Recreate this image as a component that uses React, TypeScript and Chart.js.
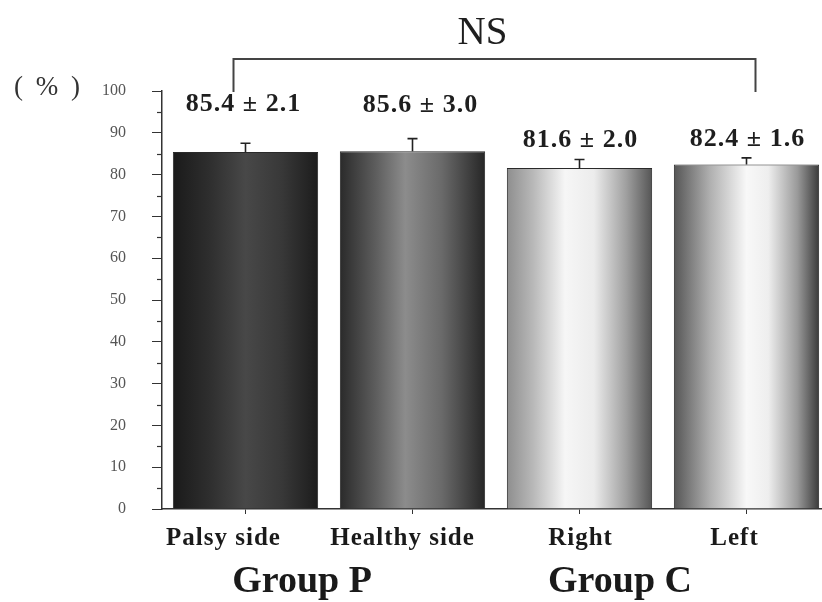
import { useEffect, useRef } from 'react';
import { Chart, registerables } from 'chart.js';

Chart.register(...registerables);

// ---- data ----
const categories = ['Palsy side', 'Healthy side', 'Right', 'Left'];
const means = [85.4, 85.6, 81.6, 82.4];
const sds = [2.1, 3.0, 2.0, 1.6];
const groupLabels = ['Group P', 'Group C'];
const yMin = 0;
const yMax = 100;
const yStep = 10;
const yMinorStep = 5;
const yUnit = '( % )';
const sigLabel = 'NS';

// ---- style ----
const SERIF = '"Liberation Serif", "DejaVu Serif", serif';
const barStops: [number, string][][] = [
  [[0, '#1a1a1a'], [0.25, '#2e2e2e'], [0.5, '#484848'], [0.75, '#383838'], [1, '#1c1c1c']],
  [[0, '#2a2a2a'], [0.25, '#5e5e5e'], [0.45, '#8c8c8c'], [0.7, '#6a6a6a'], [1, '#262626']],
  [[0, '#8e8e8e'], [0.18, '#b8b8b8'], [0.4, '#f6f6f6'], [0.6, '#ececec'], [0.82, '#a0a0a0'], [1, '#555555']],
  [[0, '#555555'], [0.25, '#b0b0b0'], [0.5, '#f8f8f8'], [0.65, '#eeeeee'], [0.85, '#9a9a9a'], [1, '#3a3a3a']],
];
const BAR_PCT = 0.87;
const labelLift = [32, 27, 13, 12];
const labelDx = [-2, 8, 1, 1];
const catLabelDx = [-22, -10, 1, -12];

function barGradient(ctx: any) {
  const chart = ctx.chart;
  const area = chart.chartArea;
  if (!area) return '#444';
  const xs = chart.scales.x;
  const i = ctx.dataIndex;
  const cx = xs.getPixelForValue(i);
  const half = ((area.right - area.left) / categories.length) * BAR_PCT / 2;
  const g = chart.ctx.createLinearGradient(cx - half, 0, cx + half, 0);
  barStops[i].forEach(([o, c]) => g.addColorStop(o, c));
  return g;
}

const overlayPlugin = {
  id: 'overlay',
  afterDatasetsDraw(chart: any) {
    const ctx = chart.ctx;
    const xs = chart.scales.x;
    const ys = chart.scales.y;
    ctx.save();

    // minor ticks on y axis
    ctx.strokeStyle = '#333';
    ctx.lineWidth = 1.2;
    for (let v = yMin + yMinorStep; v < yMax; v += yStep) {
      const y = Math.round(ys.getPixelForValue(v)) + 0.5;
      ctx.beginPath();
      ctx.moveTo(chart.chartArea.left - 5, y);
      ctx.lineTo(chart.chartArea.left, y);
      ctx.stroke();
    }

    // error bars (upper only)
    ctx.strokeStyle = '#222';
    ctx.lineWidth = 1.6;
    means.forEach((m, i) => {
      const x = xs.getPixelForValue(i);
      const y0 = ys.getPixelForValue(m);
      const y1 = ys.getPixelForValue(m + sds[i]);
      ctx.beginPath();
      ctx.moveTo(x, y0);
      ctx.lineTo(x, y1);
      ctx.moveTo(x - 5, y1);
      ctx.lineTo(x + 5, y1);
      ctx.stroke();
    });

    // value labels
    ctx.fillStyle = '#1e1e1e';
    ctx.font = `bold 26px ${SERIF}`;
    (ctx as any).letterSpacing = '1px';
    ctx.textAlign = 'center';
    ctx.textBaseline = 'alphabetic';
    means.forEach((m, i) => {
      const x = xs.getPixelForValue(i) + labelDx[i];
      const y = ys.getPixelForValue(m + sds[i]) - labelLift[i];
      ctx.fillText(`${m.toFixed(1)} \u00b1 ${sds[i].toFixed(1)}`, x, y);
    });

    // category labels
    ctx.fillStyle = '#1a1a1a';
    ctx.font = `bold 25px ${SERIF}`;
    (ctx as any).letterSpacing = '1px';
    categories.forEach((c, i) => {
      ctx.fillText(c, xs.getPixelForValue(i) + catLabelDx[i], 545);
    });

    // significance bracket
    (ctx as any).letterSpacing = '0px';
    const bx0 = xs.getPixelForValue(0) - 12;
    const bx1 = xs.getPixelForValue(3) + 9;
    const by = 59;
    const bBottom = ys.getPixelForValue(yMax) + 1;
    ctx.strokeStyle = '#444';
    ctx.lineWidth = 2;
    ctx.beginPath();
    ctx.moveTo(bx0, bBottom);
    ctx.lineTo(bx0, by);
    ctx.lineTo(bx1, by);
    ctx.lineTo(bx1, bBottom);
    ctx.stroke();

    ctx.fillStyle = '#1e1e1e';
    ctx.font = `39px ${SERIF}`;
    ctx.textAlign = 'center';
    ctx.fillText(sigLabel, (bx0 + bx1) / 2 - 12, 44);

    // y unit
    ctx.fillStyle = '#333';
    ctx.font = `27px ${SERIF}`;
    (ctx as any).letterSpacing = '3px';
    ctx.textAlign = 'left';
    ctx.fillText(yUnit, 14, 95);
    (ctx as any).letterSpacing = '0px';

    // group labels
    ctx.fillStyle = '#1a1a1a';
    ctx.font = `bold 38px ${SERIF}`;
    ctx.textAlign = 'center';
    const g0 = (xs.getPixelForValue(0) + xs.getPixelForValue(1)) / 2 - 27;
    const g1 = (xs.getPixelForValue(2) + xs.getPixelForValue(3)) / 2 - 43;
    ctx.fillText(groupLabels[0], g0, 592);
    ctx.fillText(groupLabels[1], g1, 592);

    ctx.restore();
  },
};

export default function App() {
  const ref = useRef<HTMLCanvasElement | null>(null);
  useEffect(() => {
    if (!ref.current) return;
    const chart = new Chart(ref.current, {
      type: 'bar',
      data: {
        labels: categories,
        datasets: [
          {
            data: means,
            backgroundColor: barGradient as any,
            borderColor: '#2a2a2a',
            borderWidth: 1,
            barPercentage: BAR_PCT,
            categoryPercentage: 1,
          },
        ],
      },
      options: {
        animation: false,
        responsive: false,
        devicePixelRatio: 1,
        layout: { padding: { top: 91, left: 0, right: 2, bottom: 0 } },
        plugins: { legend: { display: false }, tooltip: { enabled: false } },
        scales: {
          x: {
            grid: { display: true, drawOnChartArea: false, drawTicks: true, tickLength: 5, offset: false, color: '#333' },
            border: { display: true, color: '#333', width: 1.5 },
            ticks: { display: false },
            afterFit: (s: any) => { s.height = 93; },
          },
          y: {
            min: yMin,
            max: yMax,
            grid: { display: true, drawOnChartArea: false, drawTicks: true, tickLength: 10, color: '#333' },
            border: { display: true, color: '#333', width: 1.5 },
            ticks: { stepSize: yStep, color: '#555', font: { family: SERIF, size: 16 }, padding: 26 },
            afterFit: (s: any) => { s.width = 162; },
          },
        },
      },
      plugins: [overlayPlugin],
    });
    return () => chart.destroy();
  }, []);
  return (
    <div style={{ position: 'fixed', left: 0, top: 0, width: 822, height: 602, overflow: 'hidden', background: '#fff' }}>
      <canvas ref={ref} width={832} height={602} style={{ width: 832, height: 602, display: 'block' }} />
    </div>
  );
}
